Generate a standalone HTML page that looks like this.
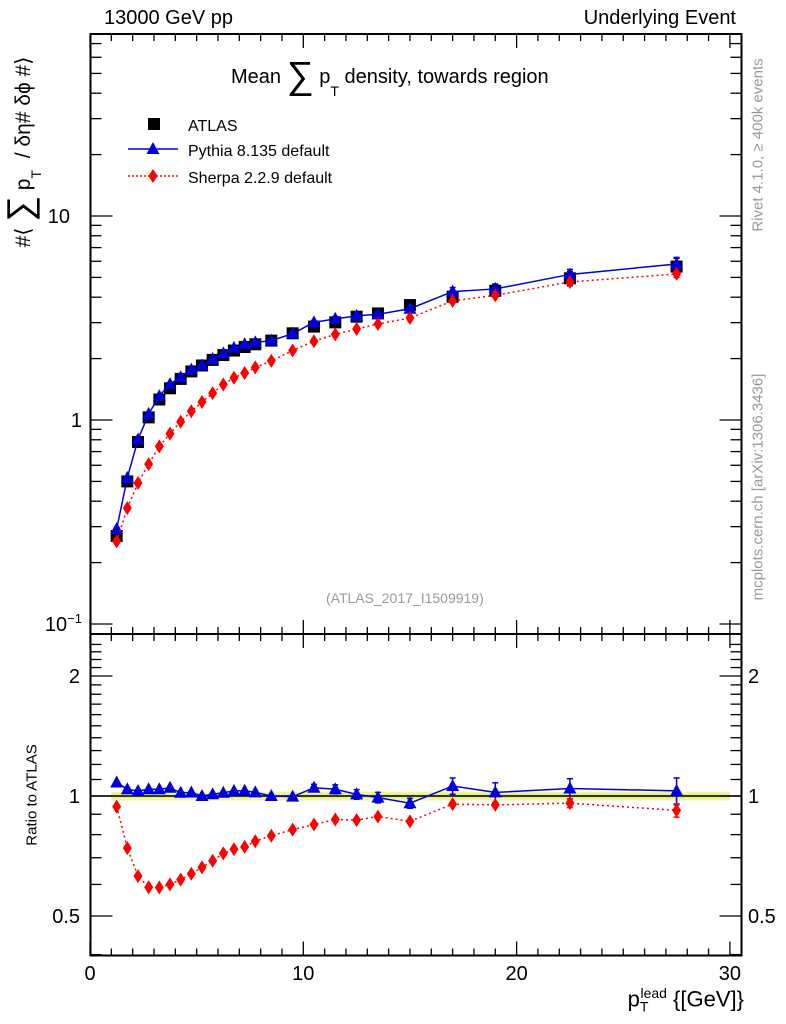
<!DOCTYPE html>
<html><head><meta charset="utf-8"><style>
html,body{margin:0;padding:0;background:#fff}
svg{display:block;font-family:"Liberation Sans",sans-serif}
</style></head><body>
<svg id="c" width="786" height="1024" viewBox="0 0 786 1024" xmlns="http://www.w3.org/2000/svg"></svg>
<script>
const xs = [1.25,1.75,2.25,2.75,3.25,3.75,4.25,4.75,5.25,5.75,6.25,6.75,7.25,7.75,8.5,9.5,10.5,11.5,12.5,13.5,15,17,19,22.5,27.5];
const atlas = [0.27,0.50,0.78,1.03,1.26,1.43,1.59,1.73,1.85,1.97,2.08,2.19,2.28,2.35,2.45,2.66,2.87,3.01,3.21,3.33,3.66,4.02,4.30,4.95,5.65];
const atlasErr = [0.01,0.01,0.02,0.02,0.02,0.03,0.03,0.03,0.03,0.03,0.03,0.03,0.04,0.04,0.04,0.05,0.06,0.06,0.07,0.08,0.1,0.25,0.3,0.4,0.55];
const pythia = [0.292,0.52,0.803,1.071,1.31,1.50,1.62,1.765,1.85,1.99,2.12,2.256,2.35,2.40,2.45,2.65,3.01,3.13,3.24,3.30,3.51,4.26,4.39,5.17,5.82];
const pythiaErr = [0.005,0.005,0.005,0.01,0.01,0.01,0.01,0.01,0.01,0.01,0.01,0.01,0.01,0.01,0.01,0.02,0.06,0.08,0.09,0.1,0.1,0.2,0.25,0.3,0.45];
const sherpa = [0.254,0.37,0.491,0.608,0.743,0.858,0.981,1.104,1.225,1.355,1.493,1.61,1.70,1.81,1.948,2.19,2.434,2.628,2.793,2.957,3.162,3.835,4.085,4.75,5.20];
const sherpaErr = [0.004,0.004,0.005,0.005,0.01,0.01,0.01,0.01,0.01,0.01,0.01,0.01,0.01,0.02,0.02,0.02,0.03,0.03,0.04,0.04,0.05,0.07,0.08,0.12,0.2];
const xTicks = [0,10,20,30];
const yTicksMain = [0.1,1,10];
const yTicksRatio = [0.5,1,2];

const NS="http://www.w3.org/2000/svg", svg=document.getElementById('c');
function el(t,a,p){const e=document.createElementNS(NS,t);for(const k in a)e.setAttribute(k,a[k]);(p||svg).appendChild(e);return e;}
const L=90.5,R=741.5,T=34,MB=634,RB=955.5;
const X=v=>90+v*21.33;
const Y=v=>216-(Math.log10(v)-1)*204;
const YR=v=>796-Math.log2(v)*120;

// band
const band=el('rect',{x:X(1),y:YR(1.025),width:X(30)-X(1),height:YR(0.975)-YR(1.025),fill:'#f0f080',opacity:0.8});


el('rect',{x:X(1),y:YR(1.008),width:X(30)-X(1),height:YR(0.992)-YR(1.008),fill:'#a8e070',opacity:0.7});
el('line',{x1:L,x2:R,y1:YR(1),y2:YR(1),stroke:'#000','stroke-width':1.5});

// frames
const f1=el('rect',{x:L,y:T,width:R-L,height:MB-T,fill:'none',stroke:'#000','stroke-width':2});


const f2=el('rect',{x:L,y:MB,width:R-L,height:RB-MB,fill:'none',stroke:'#000','stroke-width':2});



// x ticks
for(let i=0;i<=30;i++){
  const x=X(i),len=(i%10==0)?14:7;
  for(const [yt,d] of [[T,1],[MB,-1],[MB,1],[RB,-1]]){
    el('line',{x1:x,x2:x,y1:yt,y2:yt+d*len,stroke:'#000','stroke-width':1.3});
  }
}
xTicks.forEach(v=>{
  const t=el('text',{x:X(v),y:980,'font-size':20,'text-anchor':'middle'});t.textContent=v;
  
  
});
// main y ticks
for(let d=-1;d<=1;d++){for(let m=1;m<=9;m++){const v=m*Math.pow(10,d);const y=Y(v);if(y<T||y>MB)continue;
  const len=m==1?22:11;
  el('line',{x1:L,x2:L+len,y1:y,y2:y,stroke:'#000','stroke-width':1.3});
  el('line',{x1:R,x2:R-len,y1:y,y2:y,stroke:'#000','stroke-width':1.3});}}
const yl=[['10',''],['1',''],['10','−1']];
yTicksMain.forEach((v,i)=>{
  const t=el('text',{x:i==2?70:82,y:Y(v)+7,'font-size':20,'text-anchor':'end'});
  t.textContent=yl[2-i][0];
  if(i==0){const s=el('tspan',{'font-size':13,dy:-8},t);s.textContent='−1';}
  
  
});
// ratio y ticks
for(let v=0.4;v<=2.5;v+=0.1){const y=YR(v);if(y<MB||y>RB)continue;
  const major=Math.abs(v-0.5)<1e-6||Math.abs(v-1)<1e-6||Math.abs(v-2)<1e-6;const len=major?22:11;
  el('line',{x1:L,x2:L+len,y1:y,y2:y,stroke:'#000','stroke-width':1.3});
  el('line',{x1:R,x2:R-len,y1:y,y2:y,stroke:'#000','stroke-width':1.3});}
yTicksRatio.forEach(v=>{
  const t=el('text',{x:80,y:YR(v)+7,'font-size':20,'text-anchor':'end'});t.textContent=v;
  
  
  const t2=el('text',{x:748,y:YR(v)+7,'font-size':20});t2.textContent=v;
  
  
});

// markers
function sq(x,y,c){el('rect',{x:x-6,y:y-6,width:12,height:12,fill:c});}
function tri(x,y,c){el('polygon',{points:`${x},${y-7} ${x+6.5},${y+5} ${x-6.5},${y+5}`,fill:c});}
function dia(x,y,c){el('polygon',{points:`${x},${y-7} ${x+4.5},${y} ${x},${y+7} ${x-4.5},${y}`,fill:c});}
function err(x,y1,y2,c){el('line',{x1:x,x2:x,y1:y1,y2:y2,stroke:c,'stroke-width':1.5});
  el('line',{x1:x-3,x2:x+3,y1:y1,y2:y1,stroke:c,'stroke-width':1.5});el('line',{x1:x-3,x2:x+3,y1:y2,y2:y2,stroke:c,'stroke-width':1.5});}

// main plot
xs.forEach((x,i)=>err(X(x),Y(atlas[i]+atlasErr[i]),Y(atlas[i]-atlasErr[i]),'#000'));
xs.forEach((x,i)=>sq(X(x),Y(atlas[i]),'#000'));
const pl=el('polyline',{points:xs.map((x,i)=>X(x)+','+Y(pythia[i])).join(' '),fill:'none',stroke:'#0000dd','stroke-width':1.5});


xs.forEach((x,i)=>{err(X(x),Y(pythia[i]+pythiaErr[i]),Y(pythia[i]-pythiaErr[i]),'#0000dd');tri(X(x),Y(pythia[i]),'#0000dd');});
const sl=el('polyline',{points:xs.map((x,i)=>X(x)+','+Y(sherpa[i])).join(' '),fill:'none',stroke:'#ff0000','stroke-width':1.5,'stroke-dasharray':'2,3'});


xs.forEach((x,i)=>{err(X(x),Y(sherpa[i]+sherpaErr[i]),Y(sherpa[i]-sherpaErr[i]),'#ff0000');dia(X(x),Y(sherpa[i]),'#ff0000');});

// ratio plot
const pr=xs.map((x,i)=>pythia[i]/atlas[i]), sr=xs.map((x,i)=>sherpa[i]/atlas[i]);
const rpl=el('polyline',{points:xs.map((x,i)=>X(x)+','+YR(pr[i])).join(' '),fill:'none',stroke:'#0000dd','stroke-width':1.5});


xs.forEach((x,i)=>{const e=Math.max(pythiaErr[i],atlasErr[i]*0.6)/atlas[i];if(x>=10)err(X(x),YR(pr[i]+e),YR(pr[i]-e),'#0000dd');tri(X(x),YR(pr[i]),'#0000dd');});
const rsl=el('polyline',{points:xs.map((x,i)=>X(x)+','+YR(sr[i])).join(' '),fill:'none',stroke:'#ff0000','stroke-width':1.5,'stroke-dasharray':'2,3'});


xs.forEach((x,i)=>{const e=sherpaErr[i]/atlas[i];if(x>=20)err(X(x),YR(sr[i]+e),YR(sr[i]-e),'#ff0000');dia(X(x),YR(sr[i]),'#ff0000');});

// legend
sq(154,124,'#000');
el('line',{x1:128,x2:178,y1:149,y2:149,stroke:'#0000dd','stroke-width':1.5});tri(153,149,'#0000dd');
el('line',{x1:128,x2:178,y1:176,y2:176,stroke:'#ff0000','stroke-width':1.5,'stroke-dasharray':'2,2'});dia(153,176,'#ff0000');
[['ATLAS',131,'legend-atlas'],['Pythia 8.135 default',156,'legend-pythia'],['Sherpa 2.2.9 default',183,'legend-sherpa']].forEach(a=>{
  const t=el('text',{x:188,y:a[1],'font-size':16});t.textContent=a[0];
  
  
});
</script>
<div style="position:absolute;left:0;top:0;width:786px;height:1024px;pointer-events:none;font-family:'Liberation Sans',sans-serif">
<div style="position:absolute;left:104px;top:7px;font-size:20px">13000 GeV pp</div>
<div style="position:absolute;right:50px;top:7px;font-size:20px">Underlying Event</div>
<div style="position:absolute;left:231px;top:50px;font-size:20px;white-space:nowrap">Mean <span style="font-size:38px;position:relative;top:5px">∑</span> p<sub style="font-size:14px;position:relative;top:8px">T</sub> density, towards region</div>
<div style="position:absolute;left:326px;top:590px;font-size:14px;color:#999">(ATLAS_2017_I1509919)</div>
<div style="position:absolute;left:21px;top:152px;transform:translate(-50%,-50%) rotate(-90deg);font-size:21px;line-height:24px;white-space:nowrap">#⟨ <span style="font-size:36px;line-height:24px;position:relative;top:2px">∑</span> p<sub style="font-size:14px;line-height:10px;position:relative;top:6px">T</sub> &nbsp;/ δη# δϕ #⟩</div>
<div style="position:absolute;left:32px;top:795px;transform:translate(-50%,-50%) rotate(-90deg);font-size:15px;white-space:nowrap">Ratio to ATLAS</div>
<div style="position:absolute;right:42px;top:985px;font-size:22px;white-space:nowrap">p<sub style="font-size:14px">T</sub><sup style="font-size:14px;margin-left:-8px">lead</sup> {[GeV]}</div>
<div style="position:absolute;left:758px;top:145px;transform:translate(-50%,-50%) rotate(-90deg);font-size:15px;color:#999;white-space:nowrap">Rivet 4.1.0, ≥ 400k events</div>
<div style="position:absolute;left:758px;top:487px;transform:translate(-50%,-50%) rotate(-90deg);font-size:15px;color:#999;white-space:nowrap">mcplots.cern.ch [arXiv:1306.3436]</div>
</div>
</body></html>
